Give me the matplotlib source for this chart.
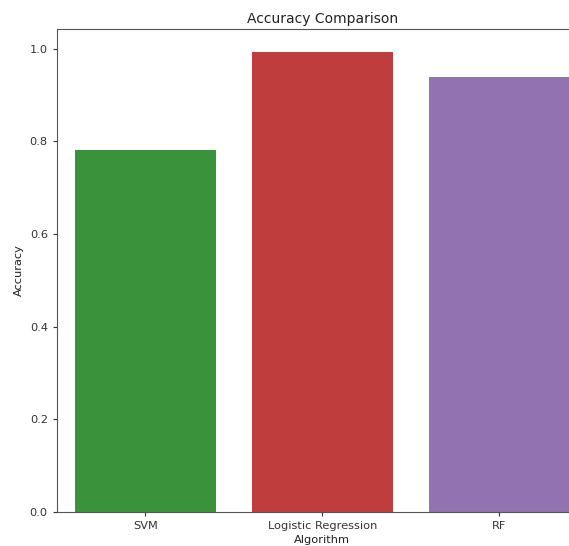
import numpy as np
import matplotlib
matplotlib.use('Agg')
import matplotlib.pyplot as plt

algorithms = ['SVM', 'Logistic Regression', 'RF']
accuracy = [0.782, 0.993, 0.940]
bar_colors = ['#3a923a', '#c03d3e', '#9372b2']

fig = plt.figure(figsize=(5.69, 5.46), dpi=100)
# the source image is cropped on the right, so the axes run past the edge
ax = fig.add_axes([0.100, 0.062, 0.933, 0.885])

x = np.arange(len(algorithms))
ax.bar(x, accuracy, width=0.8, color=bar_colors)
ax.set_xlim(-0.5, len(algorithms) - 0.5)
ax.set_ylim(0, max(accuracy) * 1.05)
ax.set_xticks(x)
ax.set_xticklabels(algorithms, fontsize=8.2)
ax.set_yticks([0.0, 0.2, 0.4, 0.6, 0.8, 1.0])
ax.tick_params(axis='y', labelsize=8.2)
ax.tick_params(colors='#333333', length=3)
for sp in ax.spines.values():
    sp.set_color('#555555')
ax.set_title('Accuracy Comparison', fontsize=10, pad=4, color='#222222')
ax.set_xlabel('Algorithm', fontsize=8.2, labelpad=3, color='#222222')
ax.set_ylabel('Accuracy', fontsize=8.2, color='#222222')

fig.savefig('out.png', dpi=100)
